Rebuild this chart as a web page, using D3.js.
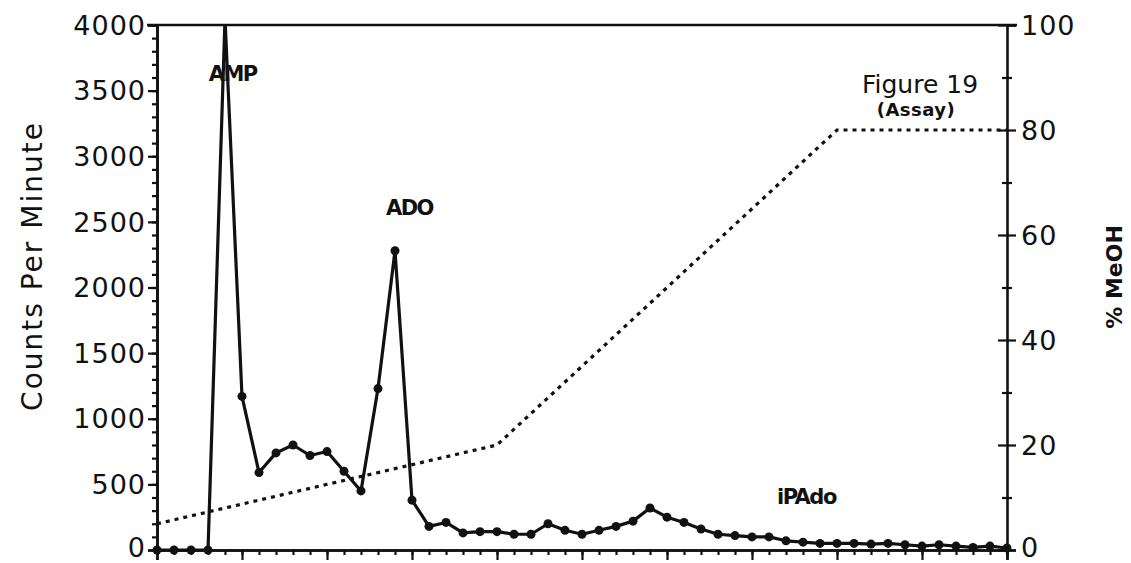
<!DOCTYPE html>
<html>
<head>
<meta charset="utf-8">
<script src="https://cdn.jsdelivr.net/npm/d3@7/dist/d3.min.js"></script>
<style>
  html, body { margin: 0; padding: 0; background: #fff; }
  svg { display: block; }
  text { font-family: "DejaVu Sans", "Liberation Sans", Arial, sans-serif; fill: #111; }
</style>
</head>
<body>
<svg id="chart" width="1131" height="563"></svg>
<script>
// Fraction numbers along the run (one sample per fraction)
const fractions = d3.range(0, 51);

// Radioactivity per fraction (counts per minute)
const cpm = [
  0, 0, 0, 0, 4050, 1170, 590, 740, 800, 720,
  750, 600, 450, 1230, 2280, 380, 180, 210, 130, 140,
  140, 120, 120, 200, 150, 120, 150, 180, 220, 320,
  250, 210, 160, 120, 110, 100, 100, 70, 60, 50,
  50, 50, 45, 50, 40, 30, 40, 30, 20, 30,
  15
];

// Methanol gradient breakpoints: fraction and % MeOH
const gradientFractions = [0, 20, 40, 50];
const gradientMeOH = [5, 20, 80, 80];

// Axis ticks
const leftMajorTicks = [0, 500, 1000, 1500, 2000, 2500, 3000, 3500, 4000];
const rightMajorTicks = [0, 20, 40, 60, 80, 100];
const rightMinorTicks = [10, 30, 50, 70, 90];

// Peak annotations: label, fraction of its centre, cpm level of its baseline
const peakLabels = ["AMP", "ADO", "iPAdo"];
const peakLabelFractions = [4.45, 14.85, 38.2];
const peakLabelLevels = [3570, 2550, 350];

const svg = d3.select("#chart");
const plotLeft = 157, plotRight = 1007, plotTop = 25, plotBottom = 550;

const x = d3.scaleLinear().domain([0, 50]).range([plotLeft, plotRight]);
const y = d3.scaleLinear().domain([0, 4000]).range([plotBottom, plotTop]);
const y2 = d3.scaleLinear().domain([0, 100]).range([plotBottom, plotTop]);

svg.append("defs").append("clipPath").attr("id", "plot-clip")
  .append("rect").attr("x", plotLeft - 10).attr("y", plotTop)
  .attr("width", plotRight - plotLeft + 20).attr("height", plotBottom - plotTop + 10);

const axisStroke = 2.6;
const tickFont = 27;

// Top frame
svg.append("line")
  .attr("x1", plotLeft - 10).attr("x2", plotRight + 10)
  .attr("y1", y(4000)).attr("y2", y(4000))
  .attr("stroke", "#111").attr("stroke-width", axisStroke);

function styleLabels(sel) {
  sel.attr("font-size", tickFont).attr("dy", "0.34em")
    .attr("font-family", "DejaVu Sans, sans-serif")
    .style("letter-spacing", "1px")
    .attr("transform", d => d === 0 ? "translate(0,-3)" : null);
}

// Left axis: minor ticks every 100, labelled majors every 500
const leftMinor = svg.append("g").attr("transform", `translate(${plotLeft},0)`)
  .call(d3.axisLeft(y).tickValues(d3.range(0, 4001, 100)).tickSize(5).tickFormat(""));
const leftMajor = svg.append("g").attr("transform", `translate(${plotLeft},0)`)
  .call(d3.axisLeft(y).tickValues(leftMajorTicks).tickSize(9).tickPadding(2).tickFormat(d3.format("d")));
[leftMinor, leftMajor].forEach(g => {
  g.select(".domain").attr("stroke", "#111").attr("stroke-width", axisStroke);
  g.selectAll(".tick line").attr("stroke", "#111").attr("stroke-width", 2.2);
});
leftMajor.selectAll(".tick text").call(styleLabels);

// Right axis: crossing ticks, labelled every 20 %
const rightAxis = svg.append("g").attr("transform", `translate(${plotRight},0)`)
  .call(d3.axisRight(y2).tickValues(rightMajorTicks).tickSize(9).tickPadding(5));
rightAxis.select(".domain").attr("stroke", "#111").attr("stroke-width", axisStroke);
rightAxis.selectAll(".tick line").attr("x1", -9).attr("stroke", "#111").attr("stroke-width", 2.2);
rightAxis.selectAll(".tick text").call(styleLabels);
const rightMinor = svg.append("g").attr("transform", `translate(${plotRight},0)`)
  .call(d3.axisRight(y2).tickValues(rightMinorTicks).tickSize(5).tickFormat(""));
rightMinor.select(".domain").remove();
rightMinor.selectAll(".tick line").attr("x1", -5).attr("stroke", "#111").attr("stroke-width", 2.2);

// Bottom axis: a tick per fraction, longer every fifth
const bottomMinor = svg.append("g").attr("transform", `translate(0,${plotBottom})`)
  .call(d3.axisBottom(x).tickValues(fractions).tickSize(5).tickFormat(""));
const bottomMajor = svg.append("g").attr("transform", `translate(0,${plotBottom})`)
  .call(d3.axisBottom(x).tickValues(fractions.filter(f => f % 5 === 0)).tickSize(10).tickFormat(""));
[bottomMinor, bottomMajor].forEach(g => {
  g.select(".domain").attr("stroke", "#111").attr("stroke-width", axisStroke);
  g.selectAll(".tick line").attr("stroke", "#111").attr("stroke-width", 2.2);
});

// Axis titles
svg.append("text")
  .attr("transform", "translate(42,266) rotate(-90)")
  .attr("text-anchor", "middle").attr("font-size", 28)
  .style("letter-spacing", "2px")
  .text("Counts Per Minute");
svg.append("text")
  .attr("transform", "translate(1122,277) rotate(-90)")
  .attr("text-anchor", "middle").attr("font-size", 22).attr("font-weight", "bold")
  .attr("font-family", "Liberation Sans, Arial, sans-serif")
  .text("% MeOH");

// Methanol gradient (dotted, right axis)
const gradient = gradientFractions.map((f, i) => [f, gradientMeOH[i]]);
svg.append("path")
  .datum(gradient)
  .attr("fill", "none").attr("stroke", "#111").attr("stroke-width", 3.2)
  .attr("stroke-dasharray", "4,5")
  .attr("d", d3.line().x(d => x(d[0])).y(d => y2(d[1])));

// Counts per minute profile
const profile = fractions.map((f, i) => [f, cpm[i]]);
const plot = svg.append("g").attr("clip-path", "url(#plot-clip)");
plot.append("path")
  .datum(profile)
  .attr("fill", "none").attr("stroke", "#111").attr("stroke-width", 3.2)
  .attr("stroke-linejoin", "round")
  .attr("d", d3.line().x(d => x(d[0])).y(d => y(d[1])));
plot.selectAll("circle.pt")
  .data(profile)
  .join("circle").attr("class", "pt")
  .attr("cx", d => x(d[0])).attr("cy", d => y(d[1])).attr("r", 4.5)
  .attr("fill", "#111");

// Peak annotations
svg.selectAll("text.peak")
  .data(peakLabels)
  .join("text").attr("class", "peak")
  .attr("x", (d, i) => x(peakLabelFractions[i])).attr("y", (d, i) => y(peakLabelLevels[i]))
  .attr("text-anchor", "middle").attr("font-size", 21).attr("font-weight", "bold")
  .attr("font-family", "Liberation Sans, Arial, sans-serif")
  .style("letter-spacing", "-1.5px")
  .text(d => d);

// Figure caption
svg.append("text").attr("x", 920).attr("y", 93)
  .attr("text-anchor", "middle").attr("font-size", 25).text("Figure 19");
svg.append("text").attr("x", 916).attr("y", 116)
  .attr("text-anchor", "middle").attr("font-size", 18).attr("font-weight", "bold")
  .style("letter-spacing", "0.5px").text("(Assay)");
</script>
</body>
</html>
